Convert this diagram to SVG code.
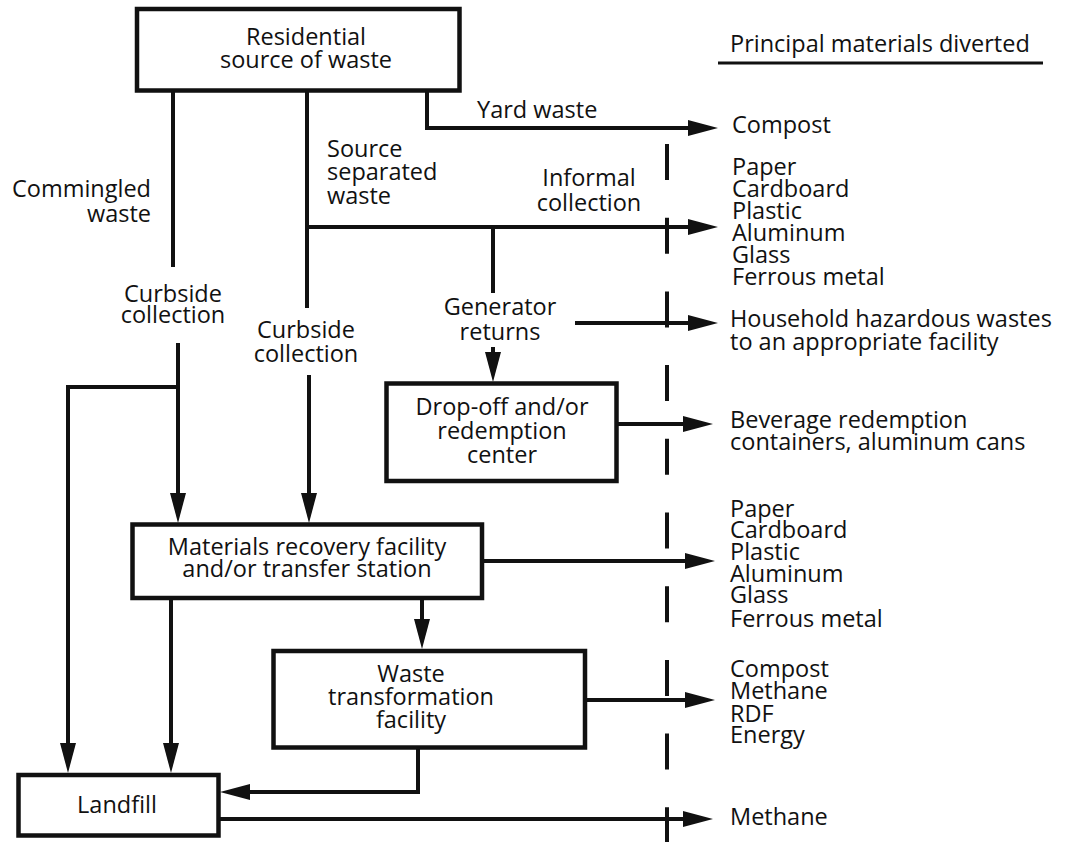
<svg xmlns="http://www.w3.org/2000/svg" width="1070" height="842" viewBox="0 0 1070 842">
<style>
.t{font-family:"Open Sans","Liberation Sans",sans-serif;font-size:23.5px;fill:#111}
.m{text-anchor:middle}
.e{text-anchor:end}
.box{fill:#fff;stroke:#111;stroke-width:4.5}
.c{fill:none;stroke:#111;stroke-width:4}
.a{marker-end:url(#ah)}
</style>
<defs>
<marker id="ah" markerUnits="userSpaceOnUse" viewBox="0 0 30 16" markerWidth="30" markerHeight="16" refX="22" refY="8" orient="auto">
<path d="M0,0 L30,8 L0,16 Z" fill="#111"/>
</marker>
</defs>
<rect width="1070" height="842" fill="#fff"/>
<g id="connectors">
<path class="c" d="M667,144 V842" stroke-width="3.2" stroke-dasharray="36 37.7"/>
<path class="c" d="M173,91 V267"/>
<path class="c a" d="M178,343 V515"/>
<path class="c a" d="M178,387 H68 V765"/>
<path class="c" d="M307,91 V308"/>
<path class="c a" d="M309,375 V515"/>
<path class="c a" d="M307,227 H710"/>
<path class="c a" d="M427,91 V128 H710"/>
<path class="c" d="M493,227 V293"/>
<path class="c a" d="M493,347 V374"/>
<path class="c a" d="M575,323 H710"/>
<path class="c a" d="M617,424 H705"/>
<path class="c a" d="M482,561 H707"/>
<path class="c a" d="M171,598 V765"/>
<path class="c a" d="M422,598 V641"/>
<path class="c a" d="M586,700 H707"/>
<path class="c a" d="M418,747 V792 H228"/>
<path class="c a" d="M218,819 H705"/>
</g>
<g id="header">
<text class="t" x="730" y="52">Principal materials diverted</text>
<path d="M718,63 H1043" stroke="#111" stroke-width="3.2"/>
</g>
<g id="residential">
<rect class="box" x="137" y="9" width="322.5" height="81.5"/>
<text class="t m" x="306" y="45">Residential</text>
<text class="t m" x="306" y="68">source of waste</text>
</g>
<g id="mrf">
<rect class="box" x="132.5" y="524.5" width="349.5" height="73.5"/>
<text class="t m" x="307" y="555">Materials recovery facility</text>
<text class="t m" x="307" y="577">and/or transfer station</text>
</g>
<g id="dropoff">
<rect class="box" x="386.5" y="383.5" width="230" height="97.5"/>
<text class="t m" x="502" y="415">Drop-off and/or</text>
<text class="t m" x="502" y="439">redemption</text>
<text class="t m" x="502" y="463">center</text>
</g>
<g id="wtf">
<rect class="box" x="273.5" y="651" width="311.5" height="96.5"/>
<text class="t m" x="411" y="682">Waste</text>
<text class="t m" x="411" y="705">transformation</text>
<text class="t m" x="411" y="728">facility</text>
</g>
<g id="landfill">
<rect class="box" x="18.5" y="775" width="200" height="60.5"/>
<text class="t m" x="117" y="813">Landfill</text>
</g>
<g id="labels">
<text class="t e" x="151" y="197">Commingled</text>
<text class="t e" x="151" y="222">waste</text>
<text class="t" x="327" y="157">Source</text>
<text class="t" x="327" y="180">separated</text>
<text class="t" x="327" y="204">waste</text>
<text class="t" x="477" y="118">Yard waste</text>
<text class="t m" x="589" y="186">Informal</text>
<text class="t m" x="589" y="211">collection</text>
<text class="t m" x="173" y="302">Curbside</text>
<text class="t m" x="173" y="323">collection</text>
<text class="t m" x="306" y="338">Curbside</text>
<text class="t m" x="306" y="362">collection</text>
<text class="t m" x="500" y="315">Generator</text>
<text class="t m" x="500" y="340">returns</text>
</g>
<g id="outputs">
<text class="t" x="732" y="133">Compost</text>
<text class="t" x="732" y="175">Paper</text>
<text class="t" x="732" y="197">Cardboard</text>
<text class="t" x="732" y="219">Plastic</text>
<text class="t" x="732" y="241">Aluminum</text>
<text class="t" x="732" y="263">Glass</text>
<text class="t" x="732" y="285">Ferrous metal</text>
<text class="t" x="730" y="327">Household hazardous wastes</text>
<text class="t" x="730" y="350">to an appropriate facility</text>
<text class="t" x="730" y="428">Beverage redemption</text>
<text class="t" x="730" y="450">containers, aluminum cans</text>
<text class="t" x="730" y="517">Paper</text>
<text class="t" x="730" y="538">Cardboard</text>
<text class="t" x="730" y="560">Plastic</text>
<text class="t" x="730" y="582">Aluminum</text>
<text class="t" x="730" y="603">Glass</text>
<text class="t" x="730" y="627">Ferrous metal</text>
<text class="t" x="730" y="677">Compost</text>
<text class="t" x="730" y="699">Methane</text>
<text class="t" x="730" y="722">RDF</text>
<text class="t" x="730" y="743">Energy</text>
<text class="t" x="730" y="825">Methane</text>
</g>
</svg>
